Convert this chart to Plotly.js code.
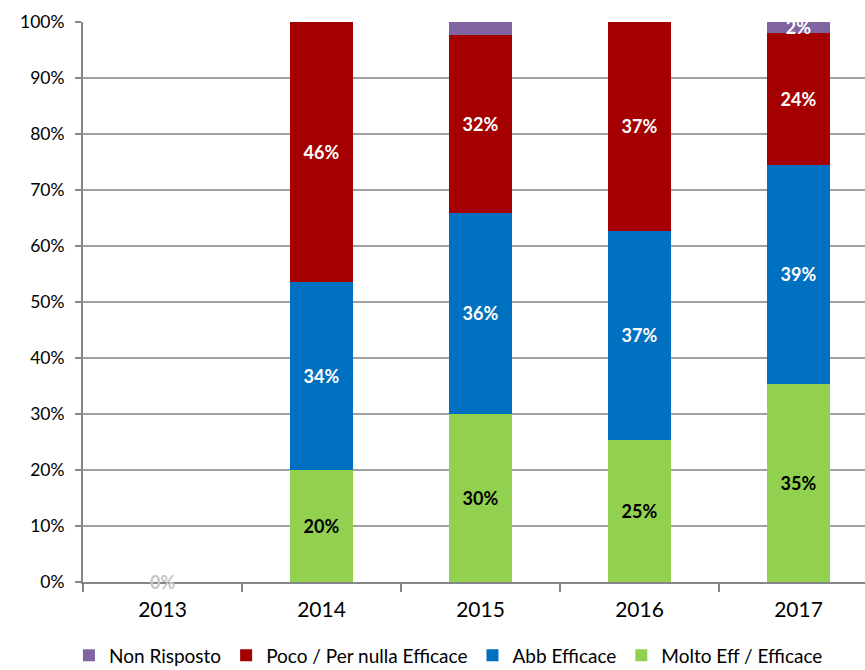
<!DOCTYPE html>
<html>
<head>
<meta charset="utf-8">
<script src="https://cdn.plot.ly/plotly-3.0.1.min.js"></script>
<style>
  html, body { margin: 0; padding: 0; background: #ffffff; overflow: hidden; }
  #chart { width: 865px; height: 670px; }
</style>
</head>
<body>
<div id="chart"></div>
<script>
// ---- data ----
const years = ['2013', '2014', '2015', '2016', '2017'];
const moltoEfficace = [0, 20.0, 30.0, 25.4, 35.4];      // Molto Eff / Efficace
const abbEfficace = [0, 33.6, 35.9, 37.3, 39.1];        // Abb Efficace
const pocoEfficace = [0, 46.4, 31.8, 37.3, 23.6];       // Poco / Per nulla Efficace
const nonRisposto = [0, 0, 2.3, 0, 1.9];                // Non Risposto
const nonRispostoLabels = ['', '', '', '', '2%'];
const seriesNames = ['Molto Eff / Efficace', 'Abb Efficace', 'Poco / Per nulla Efficace', 'Non Risposto'];
const yTickValues = [0, 10, 20, 30, 40, 50, 60, 70, 80, 90, 100];

// ---- styles ----
const FONT = 'Lato, "Liberation Sans", sans-serif';
const colors = ['#92D050', '#0070C0', '#A50000', '#8064A2'];
const labelColors = ['#000000', '#ffffff', '#ffffff', '#ffffff'];

function pctLabels(arr) {
  return arr.map(v => (v > 0 ? Math.round(v) + '%' : ''));
}

const seriesValues = [moltoEfficace, abbEfficace, pocoEfficace, nonRisposto];
const seriesLabels = [pctLabels(moltoEfficace), pctLabels(abbEfficace), pctLabels(pocoEfficace), nonRispostoLabels];

const traces = seriesValues.map((vals, i) => ({
  type: 'bar',
  name: seriesNames[i],
  x: years,
  y: vals,
  text: seriesLabels[i],
  textposition: 'inside',
  insidetextanchor: 'middle',
  constraintext: 'none',
  cliponaxis: false,
  textfont: { family: FONT, size: 18, color: labelColors[i], weight: 'bold' },
  marker: { color: colors[i], line: { width: 0 } },
  hoverinfo: 'x+y+name'
}));

const layout = {
  width: 865,
  height: 670,
  margin: { l: 83, r: 0, t: 22, b: 88, autoexpand: false },
  paper_bgcolor: '#ffffff',
  plot_bgcolor: '#ffffff',
  barmode: 'stack',
  bargap: 0.6,
  font: { family: FONT, size: 17, color: '#000000' },
  showlegend: true,
  legend: {
    orientation: 'h',
    traceorder: 'reversed',
    x: -0.018,
    xanchor: 'left',
    y: -0.131,
    yanchor: 'middle',
    font: { family: FONT, size: 19, color: '#000000' },
    itemwidth: 30,
    itemclick: false
  },
  xaxis: {
    type: 'category',
    range: [-0.5, 4.418],
    automargin: false,
    showline: true,
    linecolor: '#868686',
    linewidth: 2,
    ticks: 'outside',
    tickson: 'boundaries',
    ticklen: 8,
    tickwidth: 2,
    tickcolor: '#868686',
    showgrid: false,
    ticklabelstandoff: 8,
    tickfont: { family: FONT, size: 21, color: '#000000' },
    fixedrange: true
  },
  yaxis: {
    range: [0, 100],
    automargin: false,
    tickvals: yTickValues,
    ticktext: yTickValues.map(v => v + '%'),
    showline: true,
    linecolor: '#868686',
    linewidth: 2,
    ticks: 'outside',
    ticklen: 6,
    tickwidth: 2,
    tickcolor: '#868686',
    showgrid: true,
    gridcolor: '#A0A0A0',
    gridwidth: 1.6,
    zeroline: false,
    ticklabelstandoff: 7,
    tickfont: { family: FONT, size: 17.5, color: '#000000' },
    fixedrange: true
  },
  annotations: [{
    x: 0,
    y: moltoEfficace[0],
    xref: 'x',
    yref: 'y',
    text: Math.round(moltoEfficace[0]) + '%',
    showarrow: false,
    xanchor: 'center',
    yanchor: 'middle',
    font: { family: FONT, size: 18, color: '#c4c4c4', weight: 'bold' }
  }]
};

Plotly.newPlot('chart', traces, layout, { displayModeBar: false, staticPlot: true });
</script>
</body>
</html>
